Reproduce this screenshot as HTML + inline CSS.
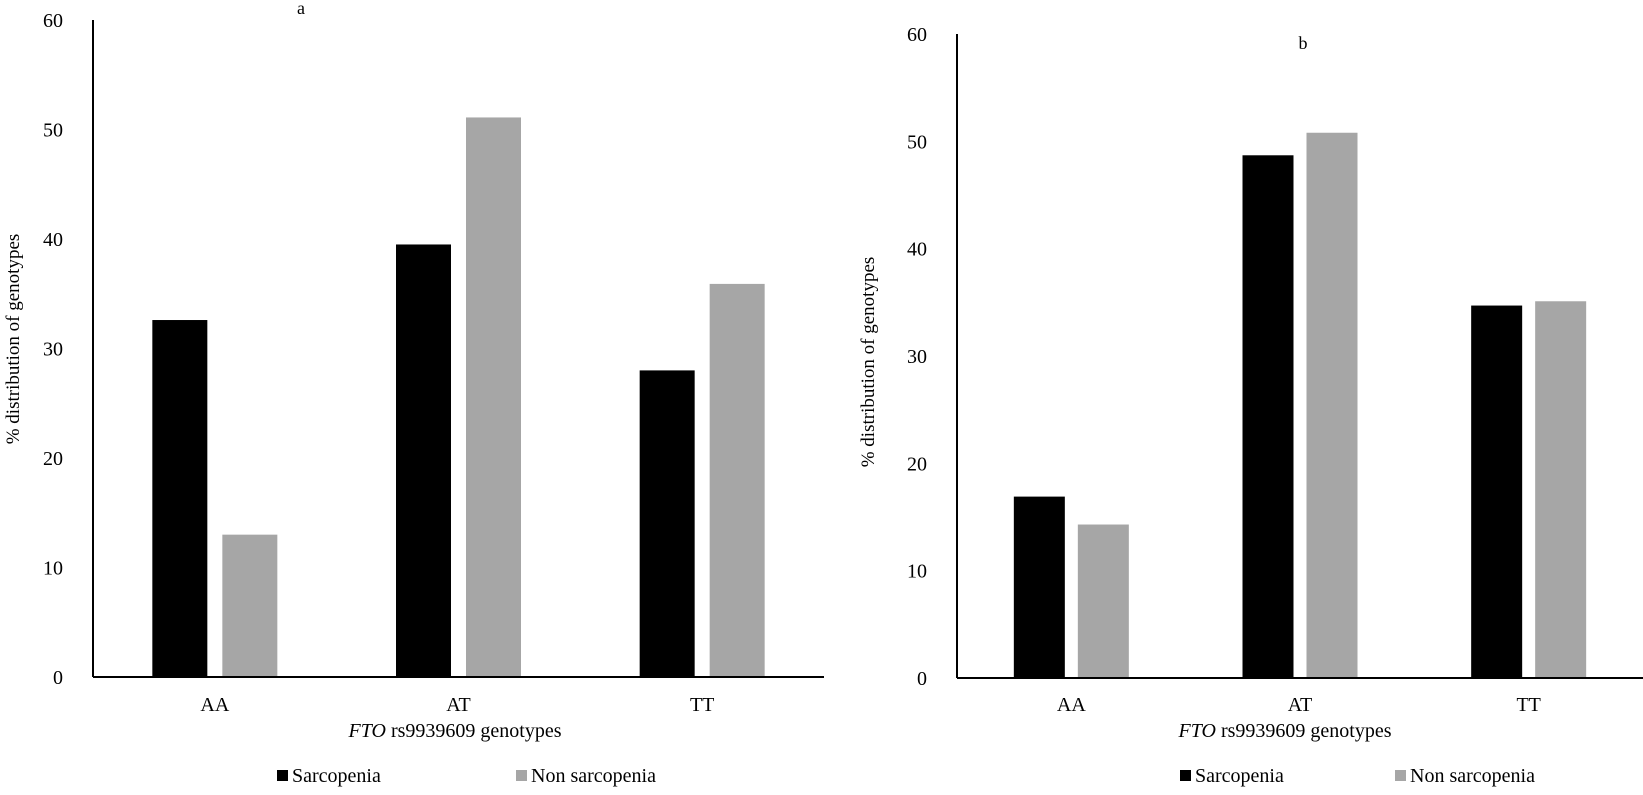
<!DOCTYPE html>
<html><head><meta charset="utf-8"><style>
html,body{margin:0;padding:0;background:#fff;}
svg{display:block;font-family:"Liberation Serif",serif;}
</style></head><body>
<svg width="1643" height="795" xmlns="http://www.w3.org/2000/svg" id="root"></svg>
<script>
const categories = ["AA","AT","TT"];
const sarcA = [32.6, 39.5, 28.0];
const nonA = [13.0, 51.1, 35.9];
const sarcB = [16.9, 48.7, 34.7];
const nonB = [14.3, 50.8, 35.1];
const yTicks = [0,10,20,30,40,50,60];
const seriesNames = ["Sarcopenia","Non sarcopenia"];

const NS="http://www.w3.org/2000/svg";
const root=document.getElementById('root');
function mk(tag,attrs,parent,text){const e=document.createElementNS(NS,tag);for(const k in attrs)e.setAttribute(k,attrs[k]);if(text!==undefined)e.textContent=text;(parent||root).appendChild(e);return e;}

function drawChart(cfg){
  const g=mk('g',{});
  
  
  const y=v=>cfg.y0-(v/60)*(cfg.y0-cfg.yTop);
  const band=(cfg.xEnd-cfg.x0)/categories.length;
  const cx=i=>cfg.x0+band*(i+0.5);
  yTicks.forEach(t=>{
    const tl=mk('text',{x:cfg.x0-30,y:y(t)+7,'text-anchor':'end','font-size':20,fill:'#000'},g,String(t));
    
    
  });
  [cfg.s,cfg.n].forEach((arr,si)=>{
    arr.forEach((v,i)=>{
      const x=si===0?cx(i)-cfg.gap/2-cfg.bw:cx(i)+cfg.gap/2;
      const r=mk('rect',{x:x,y:y(v),width:cfg.bw,height:cfg.y0-y(v),fill:si===0?'#000':'#a6a6a6'},g);
      
      
    });
  });
  const ya=mk('line',{x1:cfg.x0,y1:cfg.yTop,x2:cfg.x0,y2:cfg.y0,stroke:'#000','stroke-width':2},g);
  
  
  const xa=mk('line',{x1:cfg.x0,y1:cfg.y0,x2:cfg.xEnd,y2:cfg.y0,stroke:'#000','stroke-width':2},g);
  
  
  categories.forEach((c,i)=>{
    const t=mk('text',{x:cx(i),y:711,'text-anchor':'middle','font-size':20},g,c);
    
    
  });
  const xt=mk('text',{x:cfg.xtX,y:737,'text-anchor':'middle','font-size':20},g);
  
  
  mk('tspan',{'font-style':'italic'},xt,'FTO');
  mk('tspan',{},xt,' rs9939609 genotypes');
  const yt=mk('text',{x:0,y:0,'text-anchor':'middle','font-size':19,transform:`translate(${cfg.ytX},${cfg.ytY}) rotate(-90)`},g,'% distribution of genotypes');
  
  
  const tt=mk('text',{x:cfg.tX,y:cfg.tY,'text-anchor':'middle','font-size':18},g,cfg.title);
  
  
  cfg.leg.forEach((lx,i)=>{
    const m=mk('rect',{x:lx,y:770,width:11,height:11,fill:i===0?'#000':'#a6a6a6'},g);
    
    
    const lt=mk('text',{x:lx+15,y:782,'font-size':20},g,seriesNames[i]);
    
    
  });
}
drawChart({name:'chart-a',x0:93,xEnd:824,yTop:20,y0:677,bw:55,gap:15,s:sarcA,n:nonA,xtX:455,ytX:19,ytY:339,title:'a',tX:301,tY:14,leg:[277,516]});
drawChart({name:'chart-b',x0:957,xEnd:1643,yTop:34,y0:678,bw:51,gap:13,s:sarcB,n:nonB,xtX:1285,ytX:874,ytY:362,title:'b',tX:1303,tY:49,leg:[1180,1395]});
</script>
</body></html>
